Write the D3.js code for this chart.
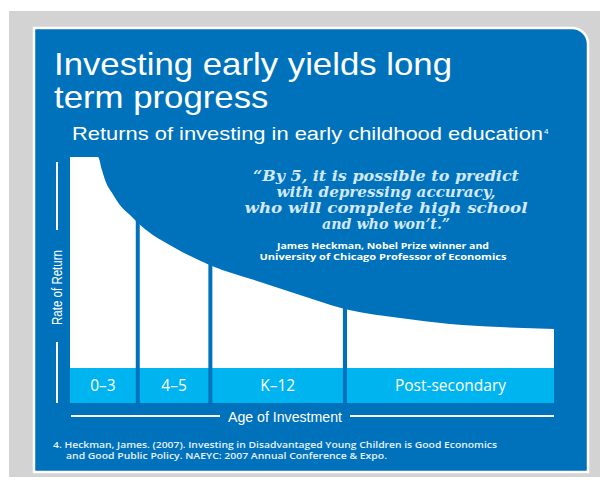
<!DOCTYPE html>
<html>
<head>
<meta charset="utf-8">
<script src="https://cdn.jsdelivr.net/npm/d3@7"></script>
<style>
  body { margin: 0; background: #fff; }
  svg { display: block; }
</style>
</head>
<body>
<div id="chart"></div>
<script>
// stages of investment and where each one ends along the age axis (share of axis, 0-100)
const stages = ["0–3", "4–5", "K–12", "Post-secondary"];
const stageBounds = [0, 14, 29, 56.8, 100];

// rate of return curve (share of axis -> relative rate, 0-100)
const curveX = [0, 5.8, 6.6, 7.4, 8.7, 10.3, 12.4, 14.5, 21.7, 28.9, 39.3, 47.5, 56.8, 68.2, 78.5, 88.8, 100];
const curveRate = [100, 100, 93.8, 88.2, 82.9, 77.3, 72.5, 67.8, 56.9, 48.8, 40.8, 34.6, 28, 23.7, 20.9, 19.4, 18.5];

const titleLines = ["Investing early yields long", "term progress"];
const subtitle = "Returns of investing in early childhood education";
const quoteLines = [
  "\u201CBy 5, it is possible to predict",
  "with depressing accuracy,",
  "who will complete high school",
  "and who won\u2019t.\u201D"
];
const attribution = [
  "James Heckman, Nobel Prize winner and",
  "University of Chicago Professor of Economics"
];
const footnote = [
  "4. Heckman, James. (2007).  Investing in Disadvantaged Young Children is Good Economics",
  "and Good Public Policy.  NAEYC:  2007 Annual Conference & Expo."
];

const W = 600, H = 489;
const blue = "#0072bc", light = "#00b5ef", grey = "#d3d3d3";
const narrow = "'Liberation Sans Narrow', 'Arial Narrow', 'Liberation Sans', sans-serif";

const svg = d3.select("#chart").append("svg").attr("width", W).attr("height", H);

svg.append("rect").attr("x", 9).attr("y", 11).attr("width", W - 9).attr("height", 466).attr("fill", grey);

// panel with one rounded corner
svg.append("path")
  .attr("d", "M34,28 H572 A16,16 0 0 1 588,44 V472 H34 Z")
  .attr("fill", blue)
  .attr("stroke", "#fff")
  .attr("stroke-width", 2.5);

// fit a text element to a width
function fit(sel, width) {
  sel.attr("textLength", width).attr("lengthAdjust", "spacingAndGlyphs");
  return sel;
}

// title
const t1 = svg.append("text").text(titleLines[0])
  .attr("x", 54).attr("y", 75)
  .attr("font-family", "'Liberation Sans', Arial, sans-serif").attr("font-size", 32).attr("fill", "#fff");
const ratio = 398 / t1.node().getComputedTextLength();
fit(t1, 398);
const t2 = svg.append("text").text(titleLines[1])
  .attr("x", 54).attr("y", 108)
  .attr("font-family", "'Liberation Sans', Arial, sans-serif").attr("font-size", 32).attr("fill", "#fff");
fit(t2, t2.node().getComputedTextLength() * ratio);

const sub = svg.append("text").text(subtitle)
  .attr("x", 72).attr("y", 140)
  .attr("font-family", "'Liberation Sans', Arial, sans-serif").attr("font-size", 18.5).attr("fill", "#fff");
fit(sub, 471);
svg.append("text").text("4")
  .attr("x", 544).attr("y", 134)
  .attr("font-family", "'Liberation Sans', Arial, sans-serif").attr("font-size", 8).attr("fill", "#fff");

// chart
const x = d3.scaleLinear().domain([0, 100]).range([70, 554]);
const y = d3.scaleLinear().domain([0, 100]).range([368, 157]);
const bandH = 35;

const pts = curveX.map((v, i) => ({ x: v, r: curveRate[i] }));
const area = d3.area()
  .x(d => x(d.x))
  .y0(y(0))
  .y1(d => y(d.r))
  .curve(d3.curveMonotoneX);

const defs = svg.append("defs");
const gap = 2;
stages.forEach((s, i) => {
  const x0 = x(stageBounds[i]) + (i > 0 ? gap : 0);
  const x1 = x(stageBounds[i + 1]) - (i < stages.length - 1 ? gap : 0);
  defs.append("clipPath").attr("id", "clip" + i)
    .append("rect").attr("x", x0).attr("y", y(100) - 5).attr("width", x1 - x0).attr("height", y(0) - y(100) + 10);

  svg.append("path")
    .datum(pts)
    .attr("d", area)
    .attr("fill", "#fff")
    .attr("clip-path", `url(#clip${i})`);

  svg.append("rect")
    .attr("x", x0).attr("y", y(0))
    .attr("width", x1 - x0).attr("height", bandH)
    .attr("fill", light);

  svg.append("text").text(s)
    .attr("x", (x0 + x1) / 2).attr("y", y(0) + 23)
    .attr("text-anchor", "middle")
    .attr("font-family", "'Open Sans', sans-serif").attr("font-size", 15.5)
    .attr("fill", "#fff");
});

// y axis label with broken line
const axX = 57;
const yLab = svg.append("text").text("Rate of Return")
  .attr("transform", `translate(${axX + 4.5},287.5) rotate(-90)`)
  .attr("text-anchor", "middle")
  .attr("font-family", narrow).attr("font-size", 14)
  .attr("fill", "#fff");
fit(yLab, 75);
svg.append("line").attr("x1", axX).attr("x2", axX).attr("y1", y(100) + 5).attr("y2", 230)
  .attr("stroke", "#fff").attr("stroke-width", 2);
svg.append("line").attr("x1", axX).attr("x2", axX).attr("y1", 342).attr("y2", y(0) + bandH)
  .attr("stroke", "#fff").attr("stroke-width", 2);

// x axis label with broken line
const axY = 416;
const xLab = svg.append("text").text("Age of Investment")
  .attr("x", 285).attr("y", axY + 5.5)
  .attr("text-anchor", "middle")
  .attr("font-family", narrow).attr("font-size", 15.5)
  .attr("fill", "#fff");
fit(xLab, 114);
svg.append("line").attr("x1", x(0) + 1).attr("x2", 220).attr("y1", axY).attr("y2", axY)
  .attr("stroke", "#fff").attr("stroke-width", 2);
svg.append("line").attr("x1", 350).attr("x2", x(100)).attr("y1", axY).attr("y2", axY)
  .attr("stroke", "#fff").attr("stroke-width", 2);

// quote
const quoteW = [266, 219, 283, 128];
quoteLines.forEach((q, i) => {
  const tq = svg.append("text").text(q)
    .attr("x", 386).attr("y", 181 + i * 16)
    .attr("text-anchor", "middle")
    .attr("font-family", "'DejaVu Serif', serif").attr("font-weight", "bold").attr("font-style", "italic")
    .attr("font-size", 14)
    .attr("fill", "#d3e8f8");
  fit(tq, quoteW[i]);
});

const attrW = [212, 247];
attribution.forEach((a, i) => {
  const ta = svg.append("text").text(a)
    .attr("x", 383).attr("y", 248.5 + i * 11)
    .attr("text-anchor", "middle")
    .attr("font-family", "'Open Sans', sans-serif").attr("font-weight", 700)
    .attr("font-size", 8)
    .attr("fill", "#fff");
  fit(ta, attrW[i]);
});

// footnote
const footW = [444, 321];
footnote.forEach((f, i) => {
  const tf = svg.append("text").text(f)
    .attr("x", i === 0 ? 53 : 66).attr("y", 447.5 + i * 11)
    .attr("font-family", "'Open Sans', sans-serif").attr("font-weight", 600)
    .attr("font-size", 8)
    .attr("fill", "#e8f2fb");
  fit(tf, footW[i]);
});
</script>
</body>
</html>
